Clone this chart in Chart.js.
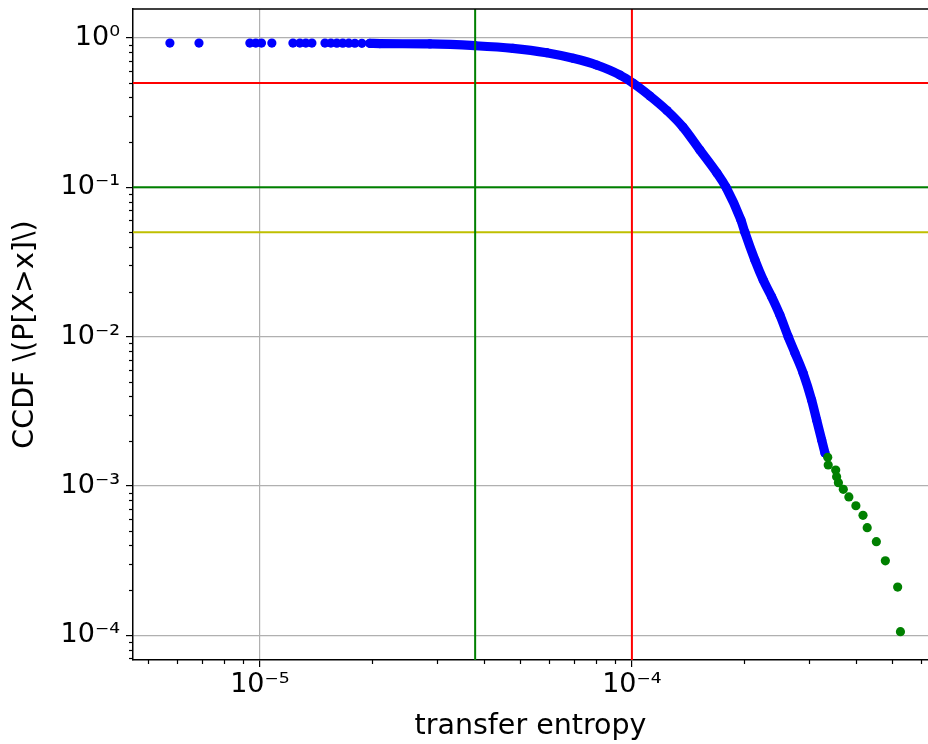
<!DOCTYPE html>
<html>
<head>
<meta charset="utf-8">
<script src="https://cdn.jsdelivr.net/npm/chart.js@4"></script>
<style>
  body { margin: 0; background: #fff; }
</style>
</head>
<body>
<canvas id="ccdfChart" width="928" height="744"></canvas>
<script>
// axis limits (log scales)
const xMin = 4.56e-6, xMax = 6.25e-4;
const yMin = 6.82e-5, yMax = 1.564;
const xTicks = [1e-5, 1e-4];
const yTicks = [1, 1e-1, 1e-2, 1e-3, 1e-4];

// sparse points at the low end
const sparseX = [5.73e-6, 6.86e-6, 9.4e-6, 9.75e-6, 1.01e-5, 1.077e-5, 1.227e-5, 1.281e-5, 1.329e-5,
  1.38e-5, 1.496e-5, 1.552e-5, 1.61e-5, 1.67e-5, 1.734e-5, 1.8e-5, 1.88e-5];
const sparseY = [0.925, 0.925, 0.925, 0.925, 0.925, 0.925, 0.925, 0.925, 0.925,
  0.925, 0.925, 0.925, 0.924, 0.924, 0.923, 0.922, 0.921];

// dense body of the distribution
const bodyX = [1.975e-5, 2.102e-5, 2.864e-5, 3.784e-5, 4.787e-5, 5.897e-5, 6.954e-5, 8.036e-5, 9.284e-5,
  1.008e-4, 1.118e-4, 1.242e-4, 1.371e-4, 1.523e-4, 1.692e-4, 1.789e-4, 1.963e-4, 2.012e-4, 2.141e-4,
  2.254e-4, 2.374e-4, 2.499e-4, 2.631e-4, 2.743e-4, 2.887e-4, 3.041e-4, 3.137e-4, 3.236e-4, 3.303e-4];
const bodyY = [0.921, 0.917, 0.912, 0.888, 0.853, 0.797, 0.731, 0.659, 0.565,
  0.497, 0.4088, 0.3268, 0.2534, 0.1778, 0.1247, 0.1005, 0.0604, 0.04995, 0.03258,
  0.02393, 0.0185, 0.01395, 0.00998, 0.00777, 0.00568, 0.003761, 0.002763, 0.00203, 0.001661];

// tail points
const tailX = [3.36e-4, 3.37e-4, 3.53e-4, 3.55e-4, 3.59e-4, 3.70e-4, 3.83e-4, 4.0e-4, 4.18e-4,
  4.29e-4, 4.54e-4, 4.80e-4, 5.18e-4, 5.27e-4];
const tailY = [1.555e-3, 1.38e-3, 1.277e-3, 1.153e-3, 1.05e-3, 9.49e-4, 8.43e-4, 7.36e-4, 6.35e-4,
  5.25e-4, 4.23e-4, 3.15e-4, 2.10e-4, 1.055e-4];

// reference lines
const hLineY = [0.5, 0.1, 0.05];
const hLineColor = ['#ff0000', '#008000', '#bfbf00'];
const vLineX = [3.79e-5, 1e-4];
const vLineColor = ['#008000', '#ff0000'];

const zip = (xs, ys) => xs.map((x, i) => ({ x: x, y: ys[i] }));
const sup = { '-': '⁻', '0': '⁰', '1': '¹', '2': '²', '3': '³', '4': '⁴', '5': '⁵', '6': '⁶' };
const powLabel = (v) => '10' + String(Math.round(Math.log10(v))).split('').map(c => sup[c]).join('');

const datasets = [];
hLineY.forEach((y, i) => datasets.push({
  data: [{ x: xMin, y: y }, { x: xMax, y: y }], showLine: true, borderColor: hLineColor[i],
  borderWidth: 2, pointRadius: 0, order: 5
}));
vLineX.forEach((x, i) => datasets.push({
  data: [{ x: x, y: yMin }, { x: x, y: yMax }], showLine: true, borderColor: vLineColor[i],
  borderWidth: 2, pointRadius: 0, order: 0
}));
datasets.push({
  data: zip(sparseX, sparseY), backgroundColor: '#0000ff', pointRadius: 4.6, pointBorderWidth: 0, order: 2
});
datasets.push({
  data: zip(bodyX, bodyY), showLine: true, borderColor: '#0000ff', borderWidth: 9.2,
  cubicInterpolationMode: 'monotone',
  borderCapStyle: 'round', borderJoinStyle: 'round', backgroundColor: '#0000ff',
  pointRadius: 4.6, pointBorderWidth: 0, order: 2
});
datasets.push({
  data: zip(tailX, tailY), backgroundColor: '#008000', pointRadius: 4.6, pointBorderWidth: 0, order: 1
});

// minor ticks + top spine
const framePlugin = {
  id: 'frame',
  afterDraw(chart) {
    const ctx = chart.ctx, a = chart.chartArea;
    const xs = chart.scales.x, ys = chart.scales.y;
    ctx.save();
    ctx.strokeStyle = '#000';
    ctx.lineWidth = 1.2;
    for (let n = -7; n <= 0; n++) {
      for (let k = 2; k <= 9; k++) {
        const v = k * Math.pow(10, n);
        if (v > xMin && v < xMax) {
          const px = Math.round(xs.getPixelForValue(v)) + 0.5;
          ctx.beginPath(); ctx.moveTo(px, a.bottom); ctx.lineTo(px, a.bottom + 4); ctx.stroke();
        }
        if (v > yMin && v < yMax) {
          const py = Math.round(ys.getPixelForValue(v)) + 0.5;
          ctx.beginPath(); ctx.moveTo(a.left, py); ctx.lineTo(a.left - 4, py); ctx.stroke();
        }
      }
    }
    ctx.lineWidth = 1.5;
    ctx.beginPath(); ctx.moveTo(a.left, a.top); ctx.lineTo(a.right, a.top); ctx.stroke();
    ctx.restore();
  }
};

const font = { family: 'DejaVu Sans', size: 27 };
const titleFont = { family: 'DejaVu Sans', size: 28.5 };

new Chart(document.querySelector('#ccdfChart'), {
  type: 'scatter',
  data: { datasets: datasets },
  options: {
    responsive: false,
    animation: false,
    layout: { autoPadding: false, padding: { top: 9, right: 0, left: 0, bottom: 0 } },
    plugins: { legend: { display: false }, tooltip: { enabled: false } },
    scales: {
      x: {
        type: 'logarithmic', min: xMin, max: xMax,
        afterBuildTicks: (s) => { s.ticks = xTicks.map(v => ({ value: v })); },
        afterFit: (s) => { s.height = 84; s.paddingLeft = 0; s.paddingRight = 0; },
        ticks: { color: '#000', font: font, padding: 2, maxRotation: 0, callback: (v) => powLabel(v) },
        grid: { color: '#b0b0b0', lineWidth: 1.2, tickColor: '#000', tickLength: 7, tickWidth: 1.2 },
        border: { display: true, color: '#000', width: 1.5 },
        title: { display: true, text: 'transfer entropy', color: '#000', font: titleFont, padding: { top: 0, bottom: 0 } }
      },
      y: {
        type: 'logarithmic', min: yMin, max: yMax,
        afterBuildTicks: (s) => { s.ticks = yTicks.map(v => ({ value: v })); },
        afterFit: (s) => { s.width = 133; s.paddingTop = 0; s.paddingBottom = 0; },
        ticks: { color: '#000', font: font, padding: 6, callback: (v) => powLabel(v) },
        grid: { color: '#b0b0b0', lineWidth: 1.2, tickColor: '#000', tickLength: 7, tickWidth: 1.2 },
        border: { display: true, color: '#000', width: 1.5 },
        title: { display: true, text: 'CCDF \\(P[X>x]\\)', color: '#000', font: titleFont, padding: { top: 8, bottom: 0 } }
      }
    }
  },
  plugins: [framePlugin]
});
</script>
</body>
</html>
